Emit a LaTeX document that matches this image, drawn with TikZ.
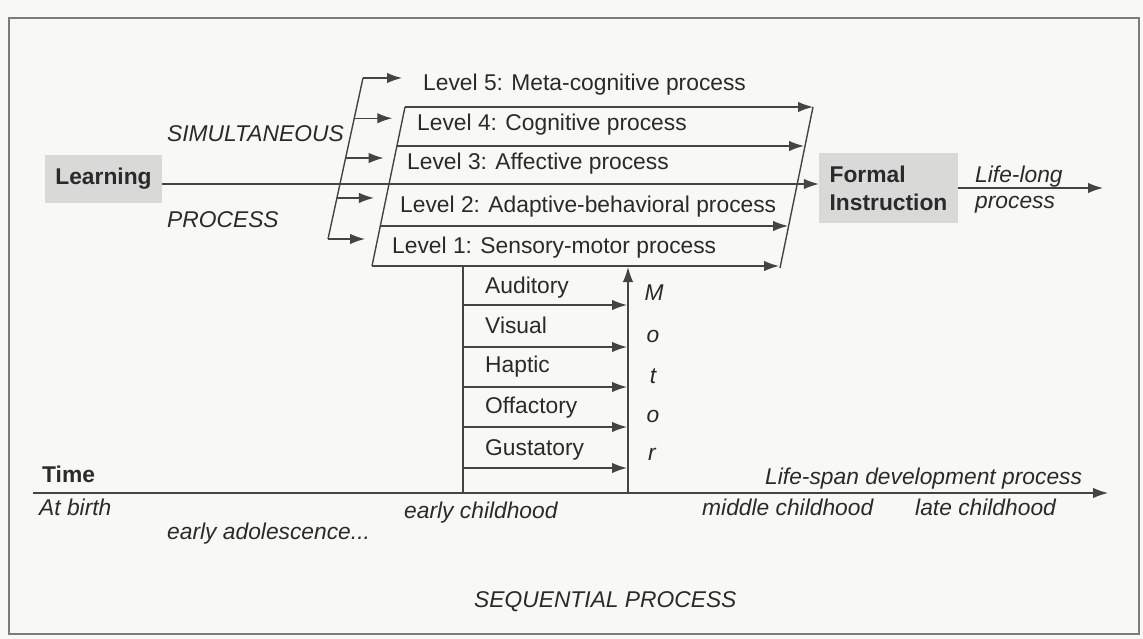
\documentclass[tikz,border=0pt]{standalone}
\usepackage{fontspec}
\setmainfont{Liberation Sans}
\usetikzlibrary{arrows.meta,calc}
\definecolor{ink}{HTML}{2A2A2A}
\definecolor{lineink}{HTML}{444444}
\definecolor{boxgray}{HTML}{D9D9D7}
\definecolor{paper}{HTML}{F8F8F5}
\definecolor{framegray}{HTML}{7C7C7C}
\begin{document}
\begin{tikzpicture}[x=1pt,y=-1pt,
  txt/.style={font=\fontsize{22.8}{28}\selectfont, text=ink, inner sep=0pt, anchor=base west},
  itxt/.style={txt, font=\fontsize{22.8}{28}\selectfont\itshape},
  btxt/.style={txt, font=\fontsize{22.8}{28}\selectfont\bfseries},
  graybox/.style={fill=boxgray, inner sep=0pt, font=\fontsize{22.8}{28}\selectfont\bfseries, text=ink},
  ln/.style={draw=lineink, line width=1.4pt},
  arr/.style={ln, -{Latex[length=15pt,width=10.5pt]}},
]
\fill[paper] (0,0) rectangle (1143,639);
\useasboundingbox (0,0) rectangle (1143,639);
\draw[framegray, line width=2pt] (9,18) rectangle (1139,634);

% Learning and Formal Instruction
\node[graybox, minimum width=117pt, minimum height=48pt] (learn) at (103.5,179) {Learning};
\node[graybox, minimum width=139pt, minimum height=70pt, align=left] (formal) at (888.5,188) {Formal\\Instruction};
\node[itxt] (simul) at (167,142) {SIMULTANEOUS};
\node[itxt] (proc) at (167,227) {PROCESS};
\node[itxt] (life1) at (975,183) {Life-long};
\node[itxt] (life2) at (975,208) {process};
\coordinate (lifeend) at (1103,188);
\draw[arr] (formal.east) -- (lifeend);

% left bracket
\coordinate (bb) at (328,239);
\coordinate (bt) at (363,78);
\draw[ln] (bb) -- (bt);
\draw[arr] (bt) -- ++(39,0);
\draw[arr] ($(bb)!0.75!(bt)$) -- ++(38,0);
\draw[arr] ($(bb)!0.503!(bt)$) -- ++(38,0);
\draw[arr] ($(bb)!0.255!(bt)$) -- ++(37,0);
\draw[arr] (bb) -- ++(37,0);

% level parallelogram
\coordinate (pl1) at (405,107);
\coordinate (pl2) at (372,266);
\coordinate (pr1) at (813,107);
\coordinate (pr2) at (780,268);
\draw[ln] (pl1) -- (pl2);
\draw[ln] (pr1) -- (pr2);
\draw[arr] (pl1) -- (pr1);
\draw[arr] (397,146) -- (804,146);
\draw[arr] ([yshift=-5pt]learn.east) -- ([yshift=-5pt]learn.east -| formal.west);
\draw[arr] (380,226) -- (788,226);
\draw[arr] (pl2) -- (779,266);

\node[txt] (lv5) at (423,91) {Level 5: Meta-cognitive process};
\node[txt] (lv4) at (417,131) {Level 4: Cognitive process};
\node[txt] (lv3) at (407,170) {Level 3: Affective process};
\node[txt] (lv2) at (400,213) {Level 2: Adaptive-behavioral process};
\node[txt] (lv1) at (392,253) {Level 1: Sensory-motor process};

% time line
\coordinate (t0) at (33,493);
\coordinate (t1) at (1108,493);
\draw[arr] (t0) -- (t1);

% sensory block
\coordinate (sl1) at (463,266);
\coordinate (sl2) at (463,493);
\coordinate (sr2) at (628,493);
\coordinate (sr1) at (628,267);
\draw[ln] (sl1) -- (sl2);
\draw[arr] (sr2) -- (sr1);
\foreach \yy in {305,347,387,427,468}{
  \draw[arr] (463,\yy) -- (627,\yy);
}
\node[txt] (aud) at (485,293) {Auditory};
\node[txt] (vis) at (485,333) {Visual};
\node[txt] (hap) at (485,372) {Haptic};
\node[txt] (off) at (485,413) {Offactory};
\node[txt] (gus) at (485,455) {Gustatory};
\node[itxt, anchor=base] (m1) at (654,300) {M};
\node[itxt, anchor=base] (m2) at (653,342) {o};
\node[itxt, anchor=base] (m3) at (653,383) {t};
\node[itxt, anchor=base] (m4) at (653,422) {o};
\node[itxt, anchor=base] (m5) at (652,460) {r};

% time labels
\node[btxt] (time) at (42,482) {Time};
\node[itxt] (birth) at (39,515) {At birth};
\node[itxt] (adol) at (167,539) {early adolescence...};
\node[itxt] (earlyc) at (404,518) {early childhood};
\node[itxt] (span) at (765,484) {Life-span development process};
\node[itxt] (midc) at (702,515) {middle childhood};
\node[itxt] (latec) at (915,515) {late childhood};
\node[itxt] (seq) at (474,607) {SEQUENTIAL PROCESS};
\end{tikzpicture}
\end{document}
